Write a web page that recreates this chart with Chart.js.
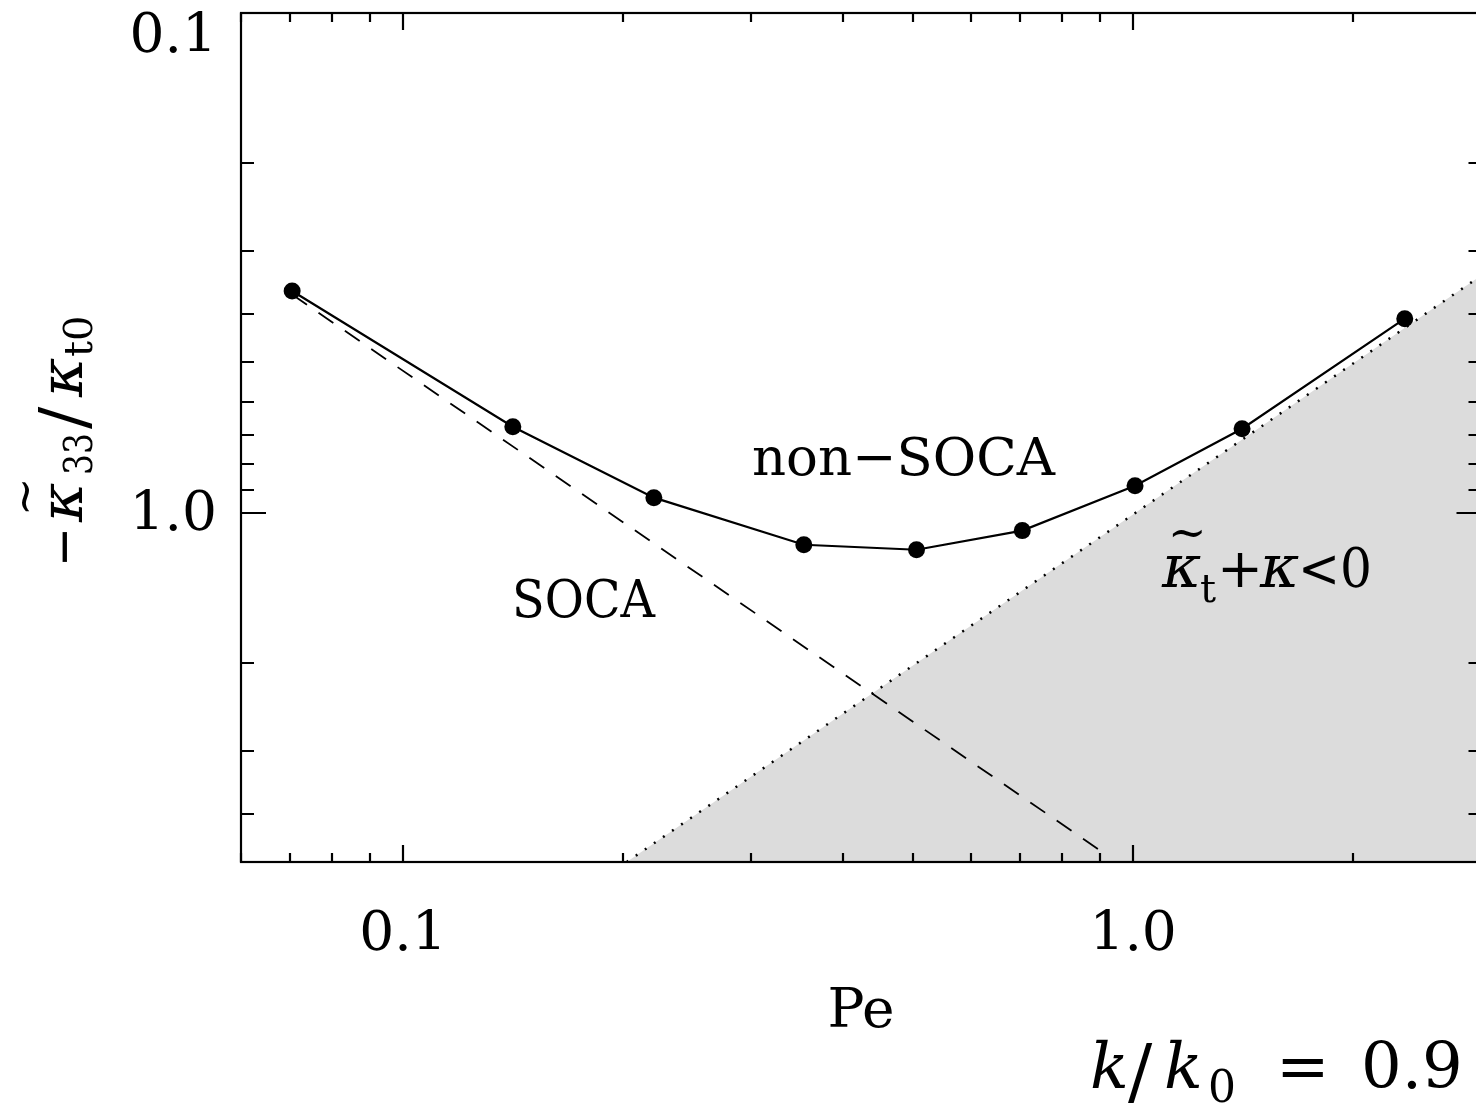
<!DOCTYPE html>
<html>
<head>
<meta charset="utf-8">
<script src="https://cdn.jsdelivr.net/npm/chart.js@4.4.1/dist/chart.umd.min.js"></script>
<style>
  html, body { margin: 0; padding: 0; overflow: hidden; background: #fff; }
  canvas { display: block; }
</style>
</head>
<body>
<canvas id="chart" width="1490" height="1111"></canvas>
<script>
// non-SOCA results (Pe, -kappa33/kappa_t0)
const peValues = [0.0705, 0.1414, 0.2206, 0.354, 0.505, 0.705, 1.006, 1.41, 2.355];
const kappaValues = [0.360, 0.673, 0.933, 1.159, 1.186, 1.086, 0.883, 0.679, 0.409];

// SOCA line (dashed)
const socaPe = [0.0705, 0.918];
const socaKappa = [0.366, 4.83];

// boundary kappa_t + kappa = 0 (dotted, shaded below)
const boundaryPe = [0.2025, 3.0];
const boundaryKappa = [5.0, 0.335];

const xTickValues = [0.1, 1];
const xTickLabels = ['0.1', '1.0'];
const yTickValues = [0.1, 1];
const yTickLabels = ['0.1', '1.0'];

const SERIF = '"DejaVu Serif", serif';

function toPoints(xs, ys) {
  return xs.map((x, i) => ({ x: x, y: ys[i] }));
}

function logTicks(min, max) {
  const out = [];
  for (let e = Math.floor(Math.log10(min)); e <= Math.ceil(Math.log10(max)); e++) {
    for (let m = 1; m <= 9; m++) {
      const v = m * Math.pow(10, e);
      if (v >= min * 0.999 && v <= max * 1.001) out.push({ v: v, major: m === 1 });
    }
  }
  return out;
}

const framePlugin = {
  id: 'frame',
  afterDraw(chart) {
    const ctx = chart.ctx;
    const area = chart.chartArea;
    const xs = chart.scales.x;
    const ys = chart.scales.y;

    ctx.save();
    ctx.strokeStyle = '#000';
    ctx.lineWidth = 2.2;

    // ticks, pointing inwards on all four sides
    ctx.beginPath();
    logTicks(xs.min, xs.max).forEach(t => {
      const px = Math.round(xs.getPixelForValue(t.v));
      const len = t.major ? 17 : 9;
      ctx.moveTo(px, area.bottom);
      ctx.lineTo(px, area.bottom - len);
      ctx.moveTo(px, area.top);
      ctx.lineTo(px, area.top + len);
    });
    logTicks(ys.min, ys.max).forEach(t => {
      const py = Math.round(ys.getPixelForValue(t.v));
      const len = t.major ? 25 : 13;
      ctx.moveTo(area.left, py);
      ctx.lineTo(area.left + len, py);
      ctx.moveTo(area.right, py);
      ctx.lineTo(area.right - len, py);
    });
    ctx.stroke();
    ctx.strokeRect(area.left, area.top, area.right - area.left, area.bottom - area.top);

    ctx.fillStyle = '#000';
    ctx.font = '55px ' + SERIF;

    // tick labels
    ctx.textAlign = 'center';
    ctx.textBaseline = 'middle';
    xTickValues.forEach((v, i) => {
      ctx.fillText(xTickLabels[i], xs.getPixelForValue(v), 936);
    });
    ctx.textAlign = 'right';
    yTickValues.forEach((v, i) => {
      const py = Math.max(ys.getPixelForValue(v) + 3, 38);
      ctx.fillText(yTickLabels[i], 217, py);
    });

    // x title
    ctx.textAlign = 'center';
    ctx.fillText('Pe', 861, 1013);

    // y title, rotated
    ctx.save();
    ctx.translate(82, 567);
    ctx.rotate(-Math.PI / 2);
    ctx.textAlign = 'left';
    ctx.textBaseline = 'alphabetic';
    ctx.font = '55px ' + SERIF;
    ctx.fillText('\u2212', 0, 0, 40);
    ctx.font = 'italic 60px ' + SERIF;
    ctx.fillText('\u03ba', 45, 0);
    ctx.font = '46px ' + SERIF;
    ctx.fillText('~', 51, -42);
    ctx.font = '40px ' + SERIF;
    ctx.fillText('33', 92, 10, 42);
    ctx.font = '66px ' + SERIF;
    ctx.fillText('/', 138, 4);
    ctx.font = 'italic 60px ' + SERIF;
    ctx.fillText('\u03ba', 170, 0);
    ctx.font = '40px ' + SERIF;
    ctx.fillText('t0', 210, 10, 46);
    ctx.restore();

    // region annotations
    ctx.textAlign = 'left';
    ctx.textBaseline = 'alphabetic';
    ctx.font = '53px ' + SERIF;
    ctx.fillText('non\u2212SOCA', 752, 475, 303);
    ctx.fillText('SOCA', 512, 617, 143);

    ctx.font = 'italic 60px ' + SERIF;
    ctx.fillText('\u03ba', 1162, 587);
    ctx.font = '46px ' + SERIF;
    ctx.fillText('~', 1168, 548);
    ctx.font = '40px ' + SERIF;
    ctx.fillText('t', 1200, 602);
    ctx.font = '55px ' + SERIF;
    ctx.fillText('+', 1217, 587);
    ctx.font = 'italic 60px ' + SERIF;
    ctx.fillText('\u03ba', 1260, 587);
    ctx.font = '55px ' + SERIF;
    ctx.fillText('<0', 1298, 587, 74);

    // parameter label
    ctx.font = 'italic 64px ' + SERIF;
    ctx.fillText('k', 1090, 1088);
    ctx.font = '72px ' + SERIF;
    ctx.fillText('/', 1128, 1096);
    ctx.font = 'italic 64px ' + SERIF;
    ctx.fillText('k', 1164, 1088);
    ctx.font = '44px ' + SERIF;
    ctx.fillText('0', 1208, 1102);
    ctx.font = '64px ' + SERIF;
    ctx.fillText('=', 1276, 1088);
    ctx.fillText('0.9', 1361, 1088);

    ctx.restore();
  }
};

new Chart(document.getElementById('chart'), {
  type: 'scatter',
  data: {
    datasets: [
      {
        label: 'non-SOCA',
        data: toPoints(peValues, kappaValues),
        showLine: true,
        borderColor: '#000',
        borderWidth: 2.2,
        backgroundColor: '#000',
        pointRadius: 8.5,
        pointBorderWidth: 0,
        pointBackgroundColor: '#000'
      },
      {
        label: 'SOCA',
        data: toPoints(socaPe, socaKappa),
        showLine: true,
        borderColor: '#000',
        borderWidth: 1.8,
        borderDash: [18, 14],
        pointRadius: 0
      },
      {
        label: 'boundary',
        data: toPoints(boundaryPe, boundaryKappa),
        showLine: true,
        borderColor: '#000',
        borderWidth: 2.5,
        borderDash: [2, 9],
        pointRadius: 0,
        fill: 'start',
        backgroundColor: '#dcdcdc'
      }
    ]
  },
  options: {
    responsive: false,
    animation: false,
    devicePixelRatio: 1,
    layout: { padding: { top: 13, right: 7, left: 0, bottom: 0 } },
    plugins: {
      legend: { display: false },
      tooltip: { enabled: false }
    },
    scales: {
      x: {
        type: 'logarithmic',
        min: 0.06,
        max: 3,
        ticks: { display: false },
        grid: { display: false },
        border: { display: false },
        afterFit: s => { s.height = 249; }
      },
      y: {
        type: 'logarithmic',
        reverse: true,
        min: 0.1,
        max: 5,
        ticks: { display: false },
        grid: { display: false },
        border: { display: false },
        afterFit: s => { s.width = 241; }
      }
    }
  },
  plugins: [framePlugin]
});
</script>
</body>
</html>
